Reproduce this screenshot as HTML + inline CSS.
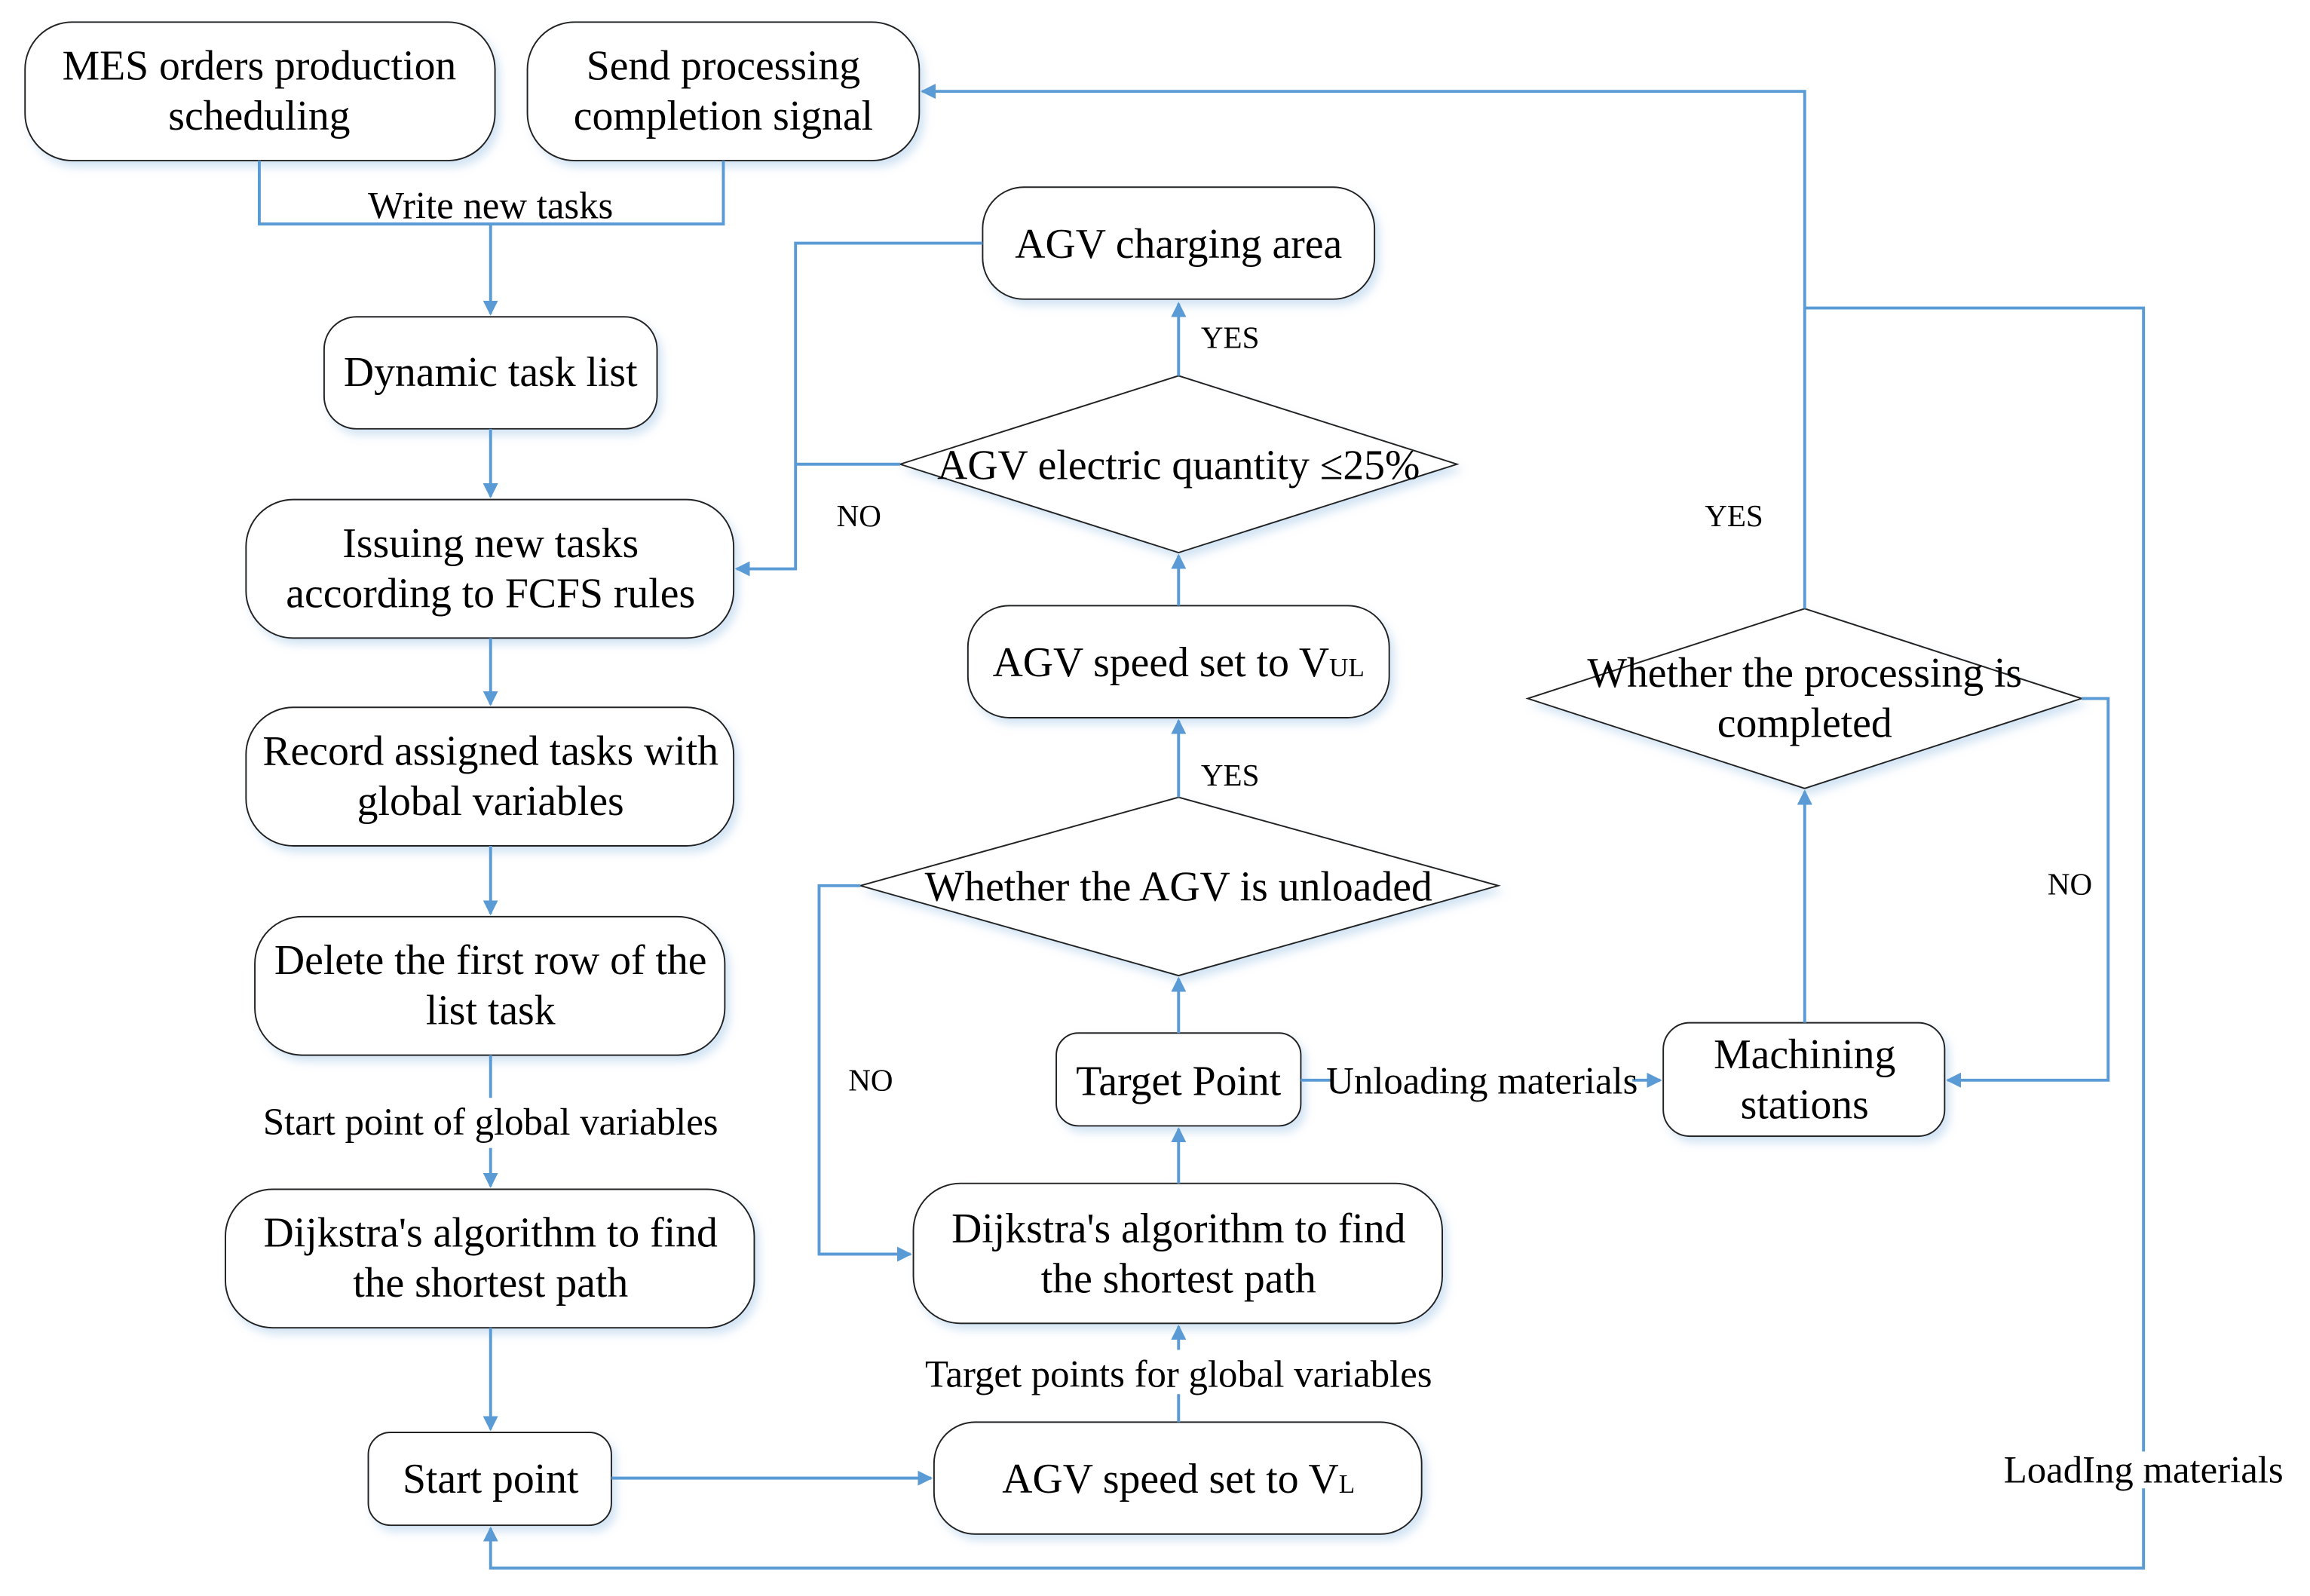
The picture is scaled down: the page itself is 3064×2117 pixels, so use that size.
<!DOCTYPE html>
<html><head><meta charset="utf-8"><style>
html,body{margin:0;padding:0;background:#fff;}
svg{display:block;}
text{font-family:'Liberation Serif','Times New Roman',serif;fill:#000;}
.b{fill:#fff;stroke:#222;stroke-width:1;}
.l{fill:none;stroke:#5b9bd5;stroke-width:2;}
.t{font-size:28.5px;text-anchor:middle;}
.s{font-size:26px;text-anchor:middle;}
.y{font-size:21px;text-anchor:middle;}
</style></head><body>
<svg width="3064" height="2117" viewBox="0 0 1568 1083" preserveAspectRatio="none" xmlns="http://www.w3.org/2000/svg" font-family="Liberation Serif, serif">
<defs>
<marker id="a" markerWidth="10" markerHeight="10" refX="9" refY="5" orient="auto" markerUnits="userSpaceOnUse"><path d="M0,0 L10,5 L0,10 z" fill="#5b9bd5" transform="scale(1.2) translate(-1.5,-0.8)"/></marker>
<filter id="sh" x="-10%" y="-10%" width="130%" height="130%"><feDropShadow dx="3" dy="4" stdDeviation="3" flood-color="#9dc3e6" flood-opacity="0.45"/></filter>
</defs>
<g filter="url(#sh)">
<rect class="b" x="17" y="15" width="319" height="94" rx="32"/>
<rect class="b" x="358" y="15" width="266" height="94" rx="32"/>
<rect class="b" x="220" y="215" width="226" height="76" rx="22"/>
<rect class="b" x="167" y="339" width="331" height="94" rx="32"/>
<rect class="b" x="167" y="480" width="331" height="94" rx="32"/>
<rect class="b" x="173" y="622" width="319" height="94" rx="32"/>
<rect class="b" x="153" y="807" width="359" height="94" rx="32"/>
<rect class="b" x="250" y="972" width="165" height="63" rx="15"/>
<rect class="b" x="634" y="965" width="331" height="76" rx="28"/>
<rect class="b" x="620" y="803" width="359" height="95" rx="32"/>
<rect class="b" x="717" y="701" width="166" height="63" rx="15"/>
<rect class="b" x="657" y="411" width="286" height="76" rx="28"/>
<rect class="b" x="667" y="127" width="266" height="76" rx="28"/>
<rect class="b" x="1129" y="694" width="191" height="77" rx="18"/>
<polygon class="b" points="584,601 800,541 1017,601 800,662"/>
<polygon class="b" points="611,315 800,255 989,315 800,375"/>
<polygon class="b" points="1037,474 1225,413 1413,474 1225,535"/>
</g>
<path class="l" d="M176,109 V152 H491 V109"/>
<path class="l" d="M333,152 V213" marker-end="url(#a)"/>
<path class="l" d="M333,291 V337" marker-end="url(#a)"/>
<path class="l" d="M333,433 V478" marker-end="url(#a)"/>
<path class="l" d="M333,574 V620" marker-end="url(#a)"/>
<path class="l" d="M333,716 V745"/>
<path class="l" d="M333,779 V805" marker-end="url(#a)"/>
<path class="l" d="M333,901 V970" marker-end="url(#a)"/>
<path class="l" d="M415,1003 H632" marker-end="url(#a)"/>
<path class="l" d="M800,965 V946"/>
<path class="l" d="M800,916 V900" marker-end="url(#a)"/>
<path class="l" d="M800,803 V766" marker-end="url(#a)"/>
<path class="l" d="M800,701 V664" marker-end="url(#a)"/>
<path class="l" d="M584,601 H556 V851 H618" marker-end="url(#a)"/>
<path class="l" d="M800,541 V489" marker-end="url(#a)"/>
<path class="l" d="M800,411 V377" marker-end="url(#a)"/>
<path class="l" d="M800,255 V206" marker-end="url(#a)"/>
<path class="l" d="M667,165 H540 V386 H500" marker-end="url(#a)"/>
<path class="l" d="M611,315 H540"/>
<path class="l" d="M883,733 H905"/>
<path class="l" d="M1108,733 H1127" marker-end="url(#a)"/>
<path class="l" d="M1225,694 V537" marker-end="url(#a)"/>
<path class="l" d="M1413,474 H1431 V733 H1322" marker-end="url(#a)"/>
<path class="l" d="M1225,413 V62 H626" marker-end="url(#a)"/>
<path class="l" d="M1225,209 H1455 V985"/>
<path class="l" d="M1455,1010 V1064 H333 V1037" marker-end="url(#a)"/>
<text class="t" x="176" y="54">MES orders production</text>
<text class="t" x="176" y="88">scheduling</text>
<text class="t" x="491" y="54">Send processing</text>
<text class="t" x="491" y="88">completion signal</text>
<text class="t" x="333" y="262">Dynamic task list</text>
<text class="t" x="333" y="378">Issuing new tasks</text>
<text class="t" x="333" y="412">according to FCFS rules</text>
<text class="t" x="333" y="519">Record assigned tasks with</text>
<text class="t" x="333" y="553">global variables</text>
<text class="t" x="333" y="661">Delete the first row of the</text>
<text class="t" x="333" y="695">list task</text>
<text class="t" x="333" y="846">Dijkstra's algorithm to find</text>
<text class="t" x="333" y="880">the shortest path</text>
<text class="t" x="333" y="1013">Start point</text>
<text class="t" x="800" y="1013">AGV speed set to V<tspan font-size="18">L</tspan></text>
<text class="t" x="800" y="843">Dijkstra's algorithm to find</text>
<text class="t" x="800" y="877">the shortest path</text>
<text class="t" x="800" y="743">Target Point</text>
<text class="t" x="800" y="611">Whether the AGV is unloaded</text>
<text class="t" x="800" y="459">AGV speed set to V<tspan font-size="18">UL</tspan></text>
<text class="t" x="800" y="325">AGV electric quantity ≤25%</text>
<text class="t" x="800" y="175">AGV charging area</text>
<text class="t" x="1225" y="725">Machining</text>
<text class="t" x="1225" y="759">stations</text>
<text class="t" x="1225" y="466">Whether the processing is</text>
<text class="t" x="1225" y="500">completed</text>
<text class="s" x="333" y="148">Write new tasks</text>
<text class="s" x="333" y="770">Start point of global variables</text>
<text class="s" x="800" y="941">Target points for global variables</text>
<text class="s" x="1006" y="742">Unloading materials</text>
<text class="s" x="1455" y="1006">LoadIng materials</text>
<text class="y" x="591" y="740">NO</text>
<text class="y" x="835" y="533">YES</text>
<text class="y" x="835" y="236">YES</text>
<text class="y" x="583" y="357">NO</text>
<text class="y" x="1405" y="607">NO</text>
<text class="y" x="1177" y="357">YES</text>
</svg>
</body></html>
